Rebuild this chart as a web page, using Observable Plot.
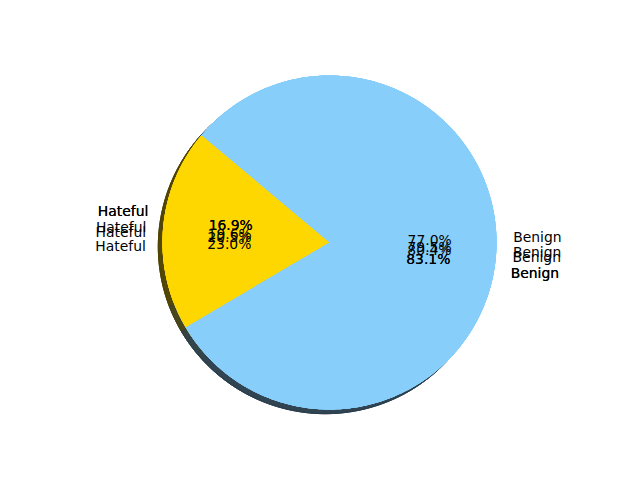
<!DOCTYPE html>
<html>
<head>
<meta charset="utf-8">
<script src="https://cdn.jsdelivr.net/npm/d3@7"></script>
<script src="https://cdn.jsdelivr.net/npm/@observablehq/plot@0.6"></script>
<style>
  html, body { margin: 0; padding: 0; background: #fff; }
  #chart { width: 640px; height: 480px; }
</style>
</head>
<body>
<div id="chart"></div>
<script>
// ---- data ----
const categories = ["Hateful", "Benign"];
const pies = ["pie1", "pie2", "pie3", "pie4", "pie5"];
const hateful = [16.9, 23.0, 20.5, 16.9, 19.6];
const benign  = [83.1, 77.0, 79.5, 83.1, 80.4];
const colors = ["#FFD700", "#87CEFA"];
const startAngle = 140;

// ---- build wedge geometry in data units (radius 1) ----
const rad = d => d * Math.PI / 180;
const wedges = [];   // {pie, cat, a0, a1, color}
pies.forEach((p, i) => {
  const vals = [hateful[i], benign[i]];
  const total = d3.sum(vals);
  let a = startAngle;
  vals.forEach((v, j) => {
    const span = 360 * v / total;
    wedges.push({pie: p, cat: categories[j], a0: a, a1: a + span, color: colors[j], value: v});
    a += span;
  });
});

function wedgePoints(w, ox = 0, oy = 0) {
  const pts = [{x: ox, y: oy}];
  const n = Math.max(2, Math.ceil(w.a1 - w.a0));
  for (let k = 0; k <= n; k++) {
    const t = rad(w.a0 + (w.a1 - w.a0) * k / n);
    pts.push({x: ox + Math.cos(t), y: oy + Math.sin(t)});
  }
  return pts;
}

function shadowColor(hex) {
  const c = d3.rgb(hex);
  return d3.rgb(c.r * 0.3, c.g * 0.3, c.b * 0.3).formatHex();
}

const marks = [];
// shadows (drawn beneath all wedges)
wedges.forEach(w => {
  const sc = shadowColor(w.color);
  marks.push(Plot.line(wedgePoints(w, -0.025, -0.025), {
    x: "x", y: "y", curve: "linear-closed",
    fill: sc, fillOpacity: 0.5, stroke: sc, strokeOpacity: 0.5, strokeWidth: 1
  }));
});
// wedges
wedges.forEach(w => {
  marks.push(Plot.line(wedgePoints(w), {
    x: "x", y: "y", curve: "linear-closed",
    fill: w.color, stroke: "none"
  }));
});

// labels
const labels = wedges.map(w => {
  const m = rad((w.a0 + w.a1) / 2);
  return {
    lx: 1.1 * Math.cos(m), ly: 1.1 * Math.sin(m),
    px: 0.6 * Math.cos(m), py: 0.6 * Math.sin(m),
    cat: w.cat, pct: d3.format(".1f")(w.value) + "%"
  };
});
const font = {fontFamily: "DejaVu Sans", fontSize: 13.9, fill: "#000"};
marks.push(Plot.text(labels.filter(d => d.lx < 0), {x: "lx", y: "ly", text: "cat", textAnchor: "end", ...font}));
marks.push(Plot.text(labels.filter(d => d.lx >= 0), {x: "lx", y: "ly", text: "cat", textAnchor: "start", ...font}));
marks.push(Plot.text(labels, {x: "px", y: "py", text: "pct", textAnchor: "middle", ...font}));

const chart = Plot.plot({
  width: 640,
  height: 480,
  x: {domain: [-1, 1], range: [162, 496], axis: null},
  y: {domain: [-1, 1], range: [409, 75], axis: null},
  style: {background: "#fff", overflow: "visible"},
  marks
});
document.getElementById("chart").appendChild(chart);
</script>
</body>
</html>
